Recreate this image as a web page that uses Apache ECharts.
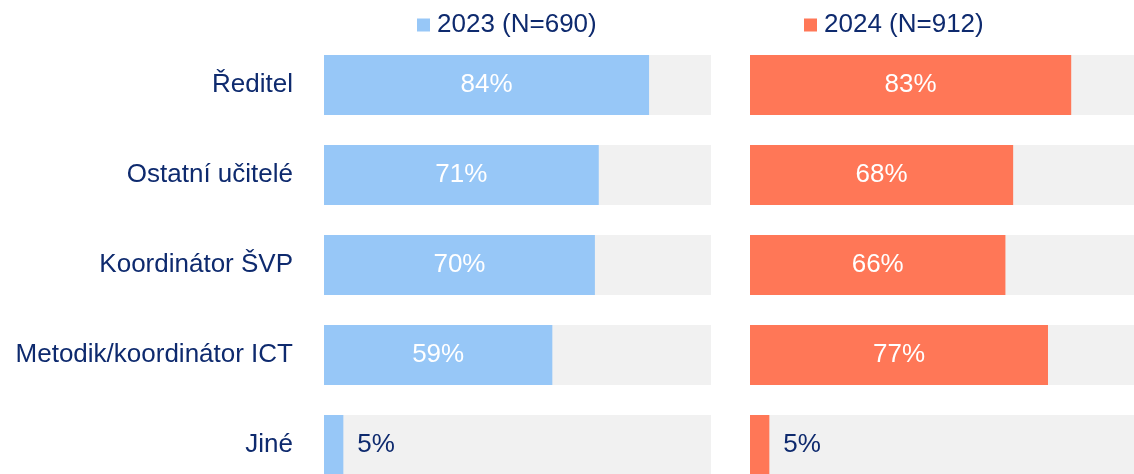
<!DOCTYPE html>
<html>
<head>
<meta charset="utf-8">
<script src="https://cdn.jsdelivr.net/npm/echarts@6/dist/echarts.min.js"></script>
<style>
  html, body { margin: 0; padding: 0; background: #fff; }
  #main { width: 1134px; height: 474px; }
</style>
</head>
<body>
<div id="main"></div>
<script>
// data
const categories = ['Ředitel', 'Ostatní učitelé', 'Koordinátor ŠVP', 'Metodik/koordinátor ICT', 'Jiné'];
const values2023 = [84, 71, 70, 59, 5];
const values2024 = [83, 68, 66, 77, 5];
const seriesNames = ['2023 (N=690)', '2024 (N=912)'];

const navy = '#0e2a6e';
const font = 'Liberation Sans, Arial, sans-serif';

// small values get their label outside the bar
function toData(vals) {
  return vals.map(function (v) {
    if (v < 10) {
      return { value: v, label: { position: 'right', distance: 14, color: navy } };
    }
    return v;
  });
}

let chart = echarts.init(document.getElementById('main'));
chart.setOption({
  animation: false,
  legend: [
    {
      data: [seriesNames[0]], left: 412, top: 7,
      icon: 'rect', itemWidth: 13, itemHeight: 13, itemGap: 6,
      textStyle: { fontSize: 26, color: navy, fontFamily: font, padding: [0, 0, 0, 2] }
    },
    {
      data: [seriesNames[1]], left: 799, top: 7,
      icon: 'rect', itemWidth: 13, itemHeight: 13, itemGap: 6,
      textStyle: { fontSize: 26, color: navy, fontFamily: font, padding: [0, 0, 0, 2] }
    }
  ],
  grid: [
    { left: 324, top: 40, width: 387, height: 450, outerBoundsMode: 'none' },
    { left: 750, top: 40, width: 387, height: 450, outerBoundsMode: 'none' }
  ],
  xAxis: [
    { gridIndex: 0, type: 'value', min: 0, max: 100, show: false },
    { gridIndex: 1, type: 'value', min: 0, max: 100, show: false }
  ],
  yAxis: [
    {
      gridIndex: 0, type: 'category', data: categories, inverse: true,
      axisLine: { show: false }, axisTick: { show: false },
      axisLabel: { fontSize: 26, color: navy, fontFamily: font, margin: 31 }
    },
    {
      gridIndex: 1, type: 'category', data: categories, inverse: true,
      axisLine: { show: false }, axisTick: { show: false },
      axisLabel: { show: false }
    }
  ],
  series: [
    {
      name: seriesNames[0], type: 'bar', xAxisIndex: 0, yAxisIndex: 0,
      data: toData(values2023), barCategoryGap: '33.3%',
      itemStyle: { color: '#97c7f7' },
      showBackground: true, backgroundStyle: { color: '#f1f1f1' },
      label: { show: true, position: 'inside', formatter: '{c}%', fontSize: 26, color: '#fff', fontFamily: font }
    },
    {
      name: seriesNames[1], type: 'bar', xAxisIndex: 1, yAxisIndex: 1,
      data: toData(values2024), barCategoryGap: '33.3%',
      itemStyle: { color: '#ff7757' },
      showBackground: true, backgroundStyle: { color: '#f1f1f1' },
      label: { show: true, position: 'inside', formatter: '{c}%', fontSize: 26, color: '#fff', fontFamily: font }
    }
  ]
});
</script>
</body>
</html>
